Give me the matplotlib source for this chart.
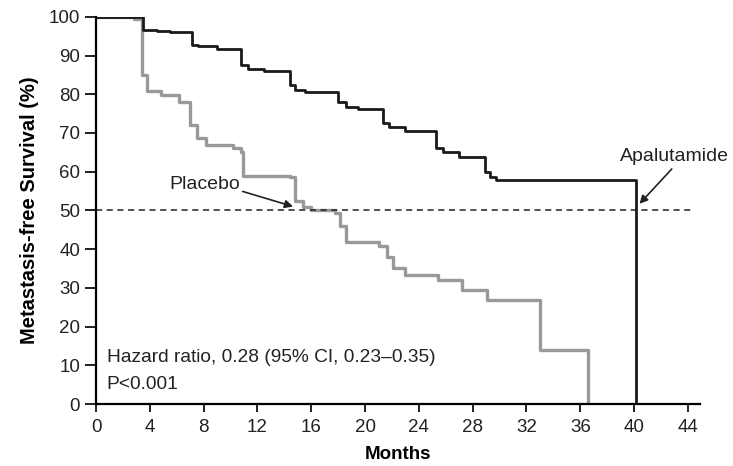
import matplotlib
matplotlib.use("Agg")
import matplotlib.pyplot as plt

plt.rcParams['font.family'] = ['Liberation Sans', 'DejaVu Sans']

# Apalutamide step curve (months, % metastasis-free)
apa_months = [0, 3.5, 4.5, 5.5, 7.1, 7.6, 9.0, 10.8, 11.3, 12.5, 14.4, 14.8, 15.5, 18.0, 18.6, 19.5,
              21.3, 21.8, 23.0, 25.3, 25.8, 27.0, 28.9, 29.3, 29.7, 40.15, 40.15]
apa_surv = [100, 96.6, 96.3, 96.0, 92.8, 92.4, 91.6, 87.5, 86.6, 86.0, 82.5, 81.2, 80.7, 78.0, 76.8, 76.3,
            72.5, 71.5, 70.5, 66.0, 65.2, 63.9, 60.0, 58.5, 57.8, 57.8, 0]

# Placebo step curve
pla_months = [0, 2.8, 3.4, 3.8, 4.8, 6.2, 7.0, 7.5, 8.2, 10.2, 10.8, 10.9, 14.4, 14.8, 15.4, 16.0,
              17.8, 18.1, 18.6, 21.0, 21.6, 22.1, 23.0, 25.4, 27.2, 29.1, 33.0, 36.6, 36.6]
pla_surv = [100, 99.5, 85.0, 80.8, 79.8, 78.1, 72.0, 68.7, 67.0, 66.0, 65.2, 59.0, 58.7, 52.3, 51.0, 50.2,
            49.3, 46.0, 41.9, 40.7, 38.0, 35.1, 33.3, 31.9, 29.5, 26.9, 14.0, 14.0, 0]

median_line = 50
xticks = list(range(0, 45, 4))
yticks = list(range(0, 101, 10))

fig = plt.figure(figsize=(7.33, 4.66), dpi=100)
ax = fig.add_axes([0.131, 0.133, 0.824, 0.831])

ax.step(pla_months, pla_surv, where='post', color='#999999', lw=2.4)
ax.step(apa_months, apa_surv, where='post', color='#1a1a1a', lw=2.0)
ax.plot([0, 44.2], [median_line, median_line], ls=(0, (4, 3)), color='#222222', lw=1.1)

ax.set_xlim(0, 44.9)
ax.set_ylim(0, 100)
ax.set_xticks(xticks)
ax.set_yticks(yticks)
for s in ['top', 'right']:
    ax.spines[s].set_visible(False)
for s in ['left', 'bottom']:
    ax.spines[s].set_linewidth(1.6)
ax.tick_params(axis='both', direction='out', width=1.4, labelsize=13.5, colors='#222222')
ax.tick_params(axis='x', length=6, pad=5)
ax.tick_params(axis='y', length=8, pad=3.5)
ax.set_xlabel('Months', fontsize=13.5, fontweight='bold', labelpad=7)
ax.set_ylabel('Metastasis-free Survival (%)', fontsize=14.5, fontweight='bold', labelpad=7)

# labels with arrows
ax.text(8.1, 56.8, 'Placebo', fontsize=14, ha='center', va='center', color='#222222')
ax.annotate('', xy=(14.65, 51.0), xytext=(10.9, 54.9),
            arrowprops=dict(arrowstyle='-|>', color='#222222', lw=1.2, mutation_scale=12,
                            shrinkA=0, shrinkB=0))
ax.text(43.0, 63.8, 'Apalutamide', fontsize=14, ha='center', va='center', color='#222222')
ax.annotate('', xy=(40.4, 51.7), xytext=(42.8, 60.7),
            arrowprops=dict(arrowstyle='-|>', color='#222222', lw=1.2, mutation_scale=12,
                            shrinkA=0, shrinkB=0))

ax.text(0.8, 12.0, 'Hazard ratio, 0.28 (95% CI, 0.23\u20130.35)', fontsize=13.8, va='center', color='#222222')
ax.text(0.8, 5.0, 'P<0.001', fontsize=13.8, va='center', color='#222222')

fig.savefig('out.png', dpi=100)
